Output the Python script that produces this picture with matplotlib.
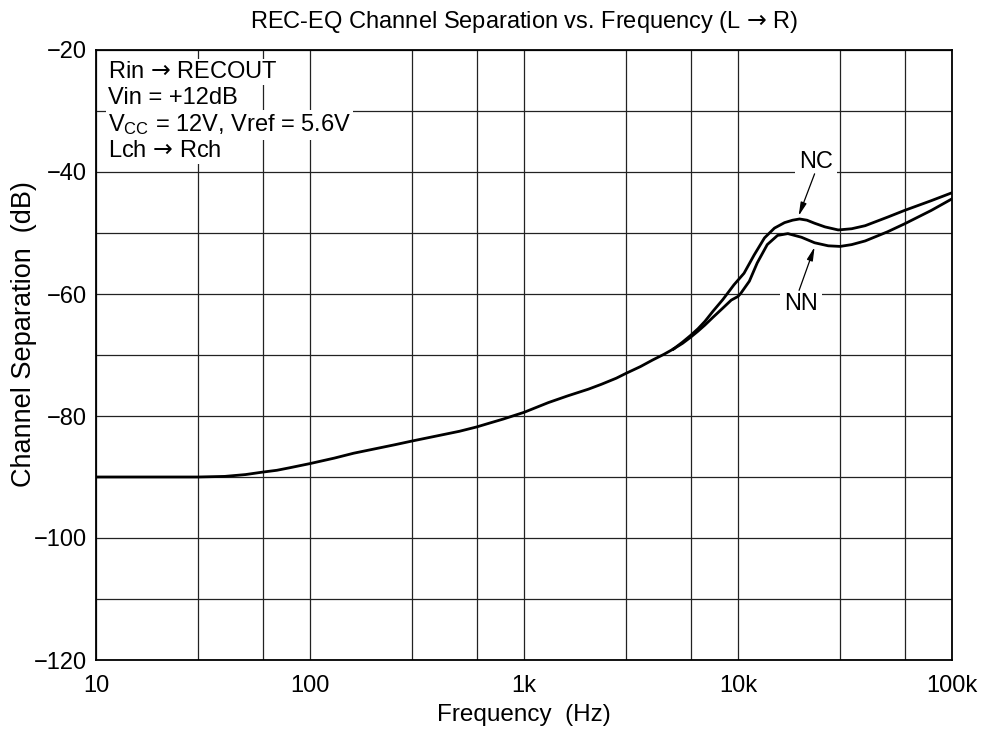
import matplotlib
matplotlib.use("Agg")
import matplotlib.pyplot as plt
from matplotlib.ticker import FixedLocator, FixedFormatter, NullFormatter

plt.rcParams['font.family'] = ['Liberation Sans', 'DejaVu Sans']
plt.rcParams['mathtext.fontset'] = 'custom'
plt.rcParams['mathtext.rm'] = 'Liberation Sans'
plt.rcParams['mathtext.it'] = 'Liberation Sans'
plt.rcParams['mathtext.sf'] = 'DejaVu Sans'
plt.rcParams['axes.unicode_minus'] = True

# ---- data ----
freq_common = [10, 20, 30, 40, 50, 60, 70, 80, 100, 130, 160, 200, 250, 300, 400, 500,
               600, 700, 800, 1000, 1300, 1600, 2000, 2300, 2700, 3000, 3500, 4000,
               4500, 5000]
sep_common = [-90.0, -90.0, -90.0, -89.9, -89.6, -89.2, -88.9, -88.5, -87.8, -86.9,
              -86.1, -85.4, -84.7, -84.1, -83.2, -82.5, -81.8, -81.1, -80.5, -79.4,
              -77.8, -76.7, -75.6, -74.8, -73.8, -73.0, -71.9, -70.8, -69.9, -69.0]

freq_nc = [5000, 5500, 6000, 6500, 7000, 7650, 8500, 9570, 10670, 11900, 13300, 14800,
           16500, 18000, 19400, 21000, 22800, 25500, 29400, 34000, 39300, 50000, 60000,
           80000, 100000]
sep_nc = [-69.0, -67.9, -66.8, -65.7, -64.5, -62.8, -60.9, -58.5, -56.6, -53.6, -50.8,
          -49.2, -48.3, -47.9, -47.7, -47.9, -48.4, -49.0, -49.5, -49.3, -48.8, -47.4,
          -46.3, -44.7, -43.4]

freq_nn = [5000, 5500, 6000, 6500, 7000, 7650, 8500, 9300, 10000, 10300, 11300, 12300,
           13700, 15300, 17100, 19800, 22800, 26400, 30000, 34000, 39300, 50000, 60000,
           80000, 100000]
sep_nn = [-69.0, -68.1, -67.1, -66.1, -65.1, -63.8, -62.3, -61.0, -60.4, -59.9, -57.9,
          -54.9, -51.9, -50.4, -50.1, -50.7, -51.6, -52.1, -52.2, -51.9, -51.3, -49.8,
          -48.5, -46.3, -44.4]

x_major = [10, 100, 1000, 10000, 100000]
x_major_labels = ['10', '100', '1k', '10k', '100k']
x_minor = [30, 60, 300, 600, 3000, 6000, 30000, 60000]
y_major = [-120, -100, -80, -60, -40, -20]
y_major_labels = ['\u2212120', '\u2212100', '\u221280', '\u221260', '\u221240', '\u221220']
y_minor = [-110, -90, -70, -50, -30]

ARROW = '$\\mathsf{\u2192}$'
title = 'REC-EQ Channel Separation vs. Frequency (L ' + ARROW + ' R)'
xlabel = 'Frequency  (Hz)'
ylabel = 'Channel Separation  (dB)'
conditions = ['Rin ' + ARROW + ' RECOUT', 'Vin = +12dB',
              r'V$_{\rm CC}$ = 12V, Vref = 5.6V', 'Lch ' + ARROW + ' Rch']

# ---- figure ----
fig = plt.figure(figsize=(9.88, 7.35), dpi=100)
ax = fig.add_axes([96 / 988, 1 - 660 / 735, 856 / 988, 610 / 735])

ax.set_xscale('log')
ax.set_xlim(10, 100000)
ax.set_ylim(-120, -20)

ax.xaxis.set_major_locator(FixedLocator(x_major))
ax.xaxis.set_major_formatter(FixedFormatter(x_major_labels))
ax.xaxis.set_minor_locator(FixedLocator(x_minor))
ax.xaxis.set_minor_formatter(NullFormatter())
ax.yaxis.set_major_locator(FixedLocator(y_major))
ax.yaxis.set_major_formatter(FixedFormatter(y_major_labels))
ax.yaxis.set_minor_locator(FixedLocator(y_minor))

ax.tick_params(which='both', length=0, labelsize=17)
ax.tick_params(axis='x', pad=11)
ax.tick_params(axis='y', pad=6.5)
ax.grid(True, which='both', color='#222222', linewidth=0.9)
ax.set_axisbelow(True)
for s in ax.spines.values():
    s.set_linewidth(1.3)
    s.set_color('black')

lw = 2.0
ax.plot(freq_common, sep_common, color='black', lw=lw, solid_joinstyle='round', zorder=3)
ax.plot(freq_nc, sep_nc, color='black', lw=lw, solid_joinstyle='round', zorder=3)
ax.plot(freq_nn, sep_nn, color='black', lw=lw, solid_joinstyle='round', zorder=3)

ax.set_title(title, fontsize=17, pad=16)
ax.set_xlabel(xlabel, fontsize=17.5, labelpad=5)
ax.set_ylabel(ylabel, fontsize=19.5)
ax.yaxis.set_label_coords(-0.069, 0.535)

ys = [0.964, 0.921, 0.877, 0.834]
for t, yy in zip(conditions, ys):
    ax.text(0.014, yy, t, transform=ax.transAxes, fontsize=17, va='center', ha='left',
            bbox=dict(facecolor='white', edgecolor='none', pad=1.5), zorder=4)

arrowprops = dict(arrowstyle='-|>,head_length=0.8,head_width=0.18', color='black',
                  lw=0.9, shrinkA=0, shrinkB=0)
ax.annotate('', xy=(19200, -47.2), xytext=(22800, -40.3), arrowprops=arrowprops, zorder=5)
ax.annotate('', xy=(22800, -52.3), xytext=(19300, -59.4), arrowprops=arrowprops, zorder=5)
ax.text(23100, -38.4, 'NC', fontsize=17, ha='center', va='center',
        bbox=dict(facecolor='white', edgecolor='none', pad=3), zorder=4)
ax.text(19700, -61.6, 'NN', fontsize=17, ha='center', va='center',
        bbox=dict(facecolor='white', edgecolor='none', pad=3), zorder=4)

fig.savefig('out.png', dpi=100)
